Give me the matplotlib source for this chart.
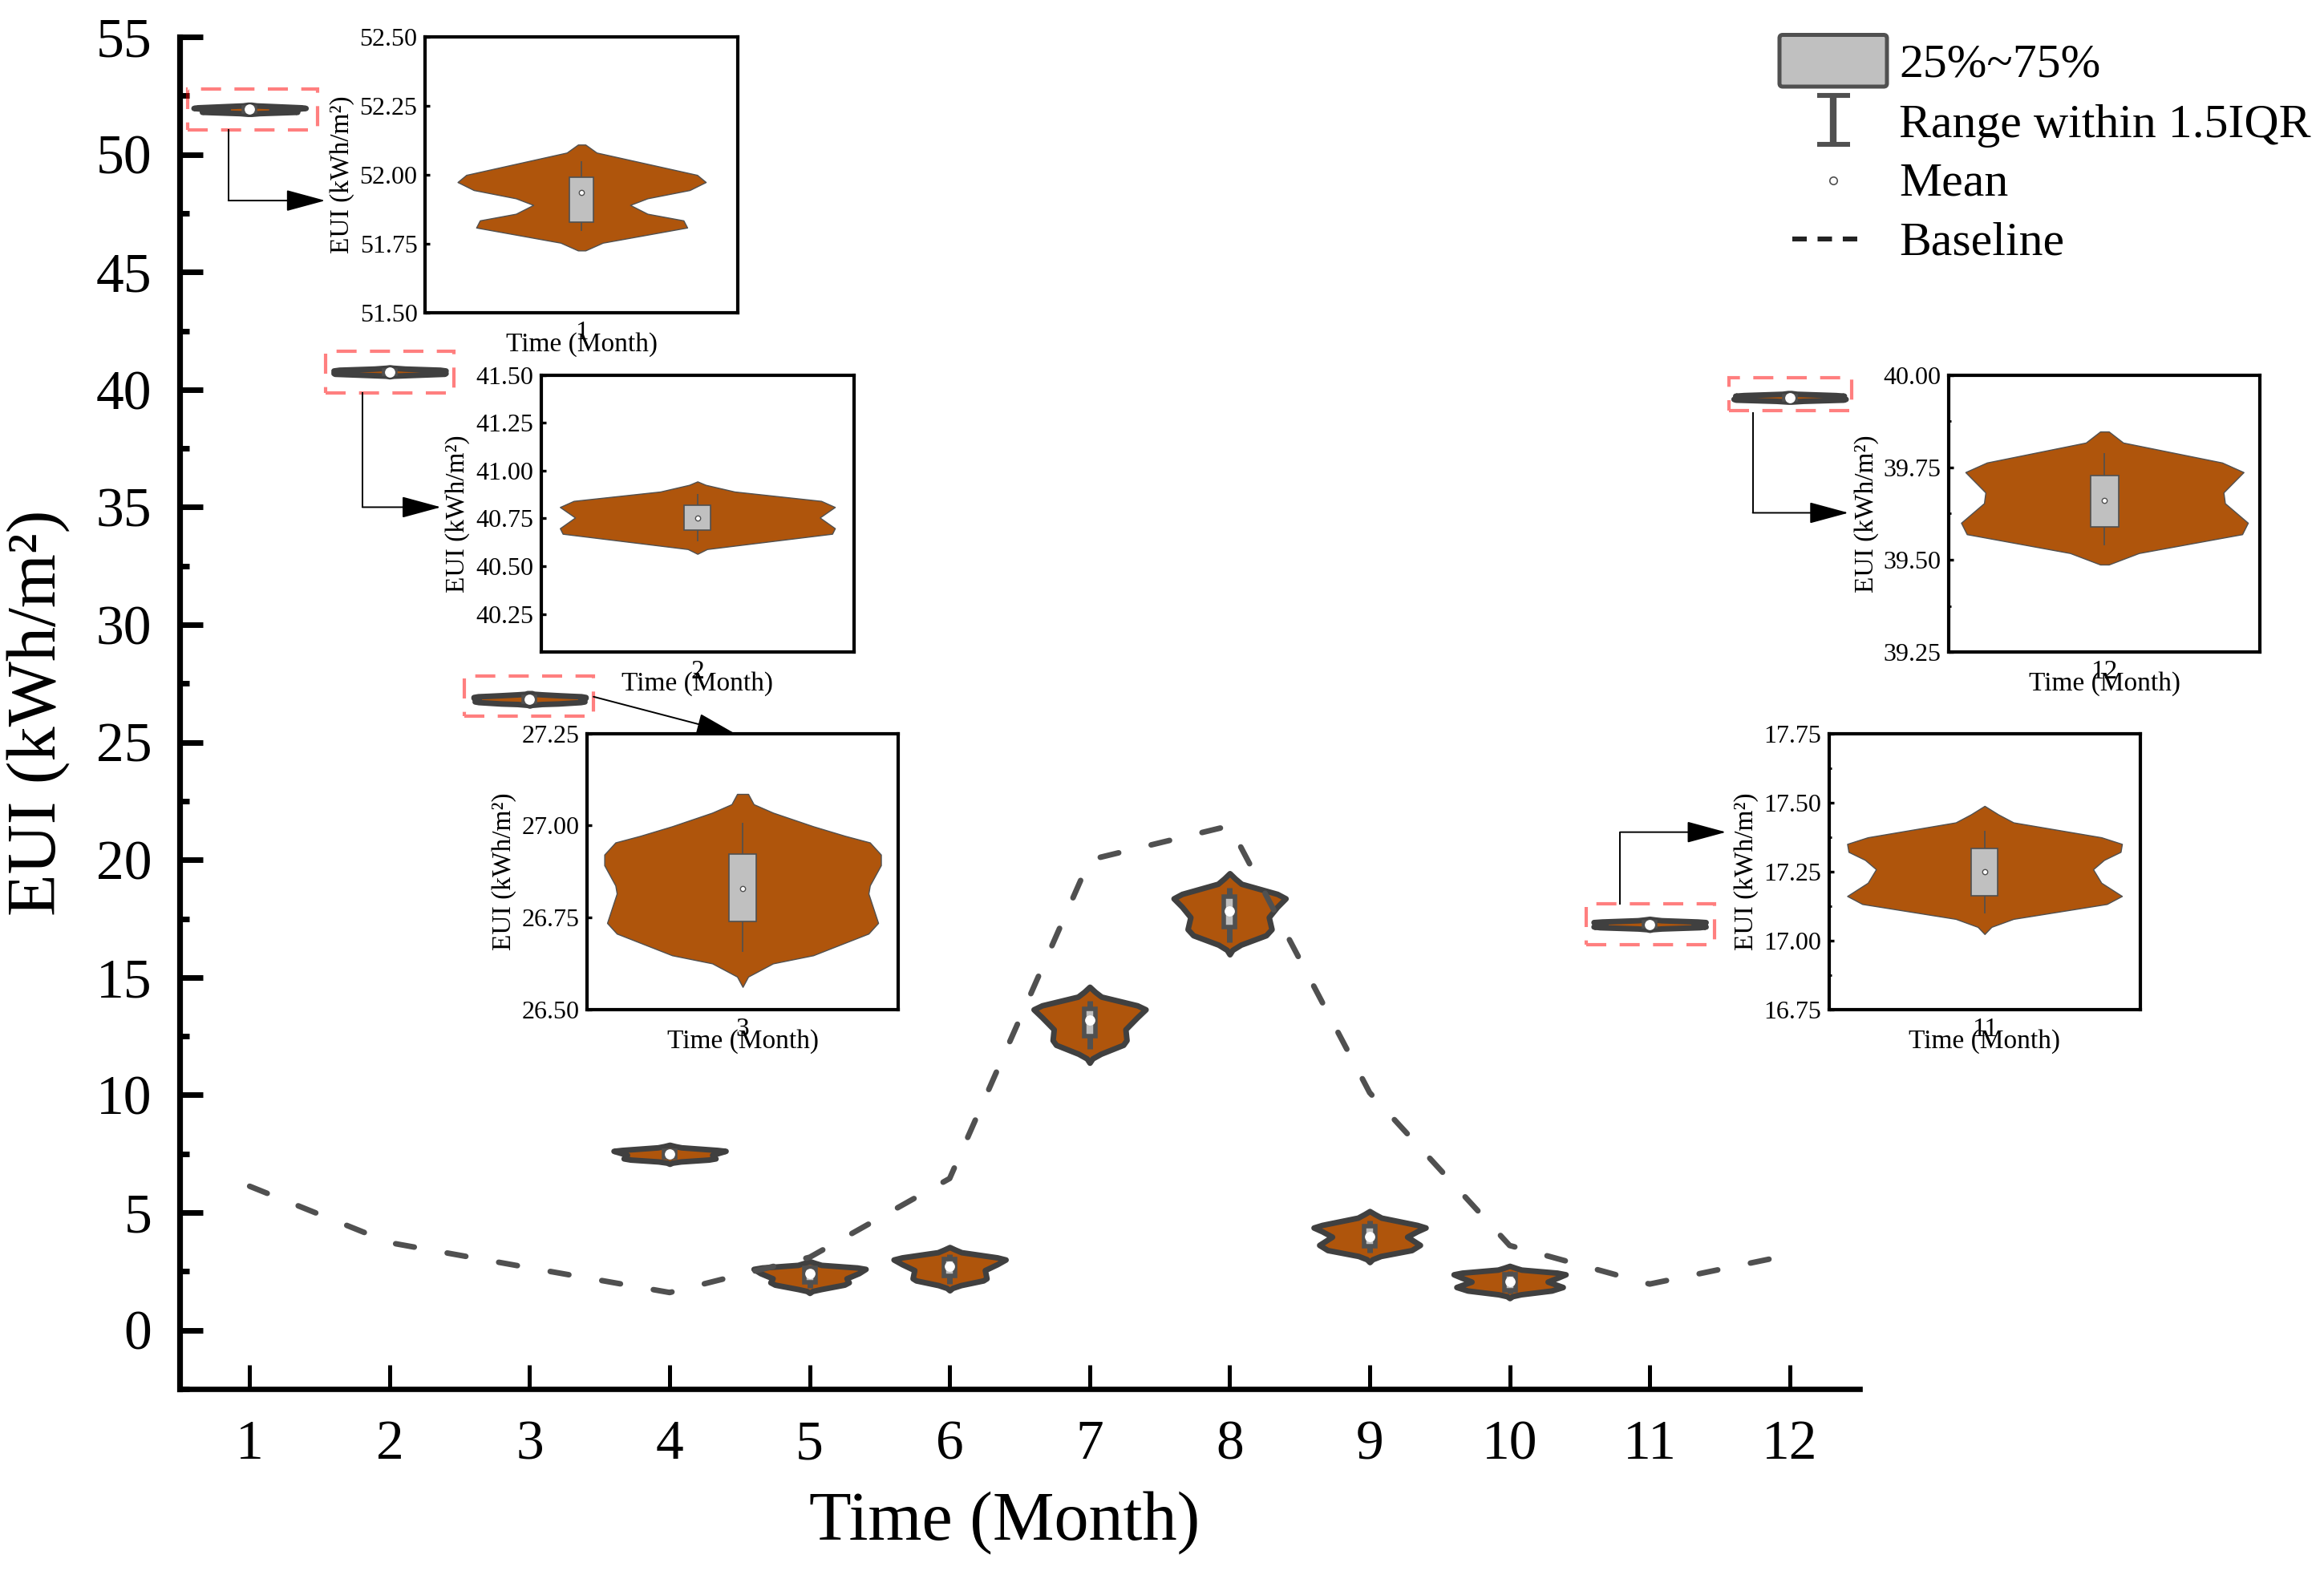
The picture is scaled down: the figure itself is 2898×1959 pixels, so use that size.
import numpy as np
import matplotlib
matplotlib.use('Agg')
import matplotlib.pyplot as plt
from matplotlib.patches import Rectangle, FancyBboxPatch
from matplotlib.ticker import MultipleLocator, FormatStrFormatter

plt.rcParams['font.family'] = ['Liberation Serif', 'DejaVu Serif']

# data
months = list(range(1, 13))
baseline = [6.12, 3.72, 2.65, 1.60, 3.10, 6.45, 20.0, 21.45, 10.1, 3.60, 1.96, 3.20]

# violin outline per month: EUI values and relative half width (1 = widest)
violin_y = [
    [51.726, 51.754, 51.809, 51.835, 51.859, 51.891, 51.915, 51.945, 51.974, 52.000, 52.081, 52.110],
    [40.564, 40.589, 40.669, 40.698, 40.754, 40.809, 40.841, 40.890, 40.925, 40.943],
    [26.561, 26.589, 26.625, 26.647, 26.706, 26.735, 26.815, 26.837, 26.892, 26.921, 26.954, 26.972,
     26.998, 27.035, 27.058, 27.086],
    [7.07, 7.12, 7.17, 7.25, 7.30, 7.45, 7.55, 7.62, 7.66, 7.77, 7.82, 7.88],
    [1.58, 1.66, 1.74, 1.93, 2.03, 2.20, 2.42, 2.60, 2.66, 2.77, 2.85, 2.93],
    [1.69, 1.79, 1.91, 2.11, 2.20, 2.55, 2.80, 3.00, 3.09, 3.31, 3.42, 3.53],
    [11.37, 11.55, 11.75, 12.13, 12.33, 12.79, 13.30, 13.64, 13.81, 14.18, 14.38, 14.60],
    [15.98, 16.17, 16.39, 16.79, 17.05, 17.56, 18.00, 18.36, 18.55, 18.98, 19.20, 19.43],
    [2.89, 3.01, 3.15, 3.40, 3.62, 3.97, 4.20, 4.36, 4.47, 4.78, 4.92, 5.06],
    [1.36, 1.44, 1.52, 1.68, 1.83, 2.06, 2.25, 2.37, 2.44, 2.57, 2.65, 2.73],
    [17.023, 17.049, 17.078, 17.132, 17.161, 17.209, 17.258, 17.292, 17.321, 17.350, 17.374, 17.428,
     17.457, 17.488],
    [39.487, 39.518, 39.569, 39.600, 39.653, 39.682, 39.737, 39.763, 39.817, 39.847],
]
violin_w = [
    [0.03, 0.17, 0.85, 0.82, 0.53, 0.39, 0.53, 0.87, 1.00, 0.93, 0.12, 0.03],
    [0.00, 0.07, 0.98, 1.00, 0.89, 1.00, 0.90, 0.27, 0.06, 0.00],
    [0.00, 0.04, 0.22, 0.51, 0.91, 0.98, 0.91, 0.92, 1.00, 1.00, 0.92, 0.74, 0.51, 0.22, 0.08, 0.04],
    [0.00, 0.05, 0.20, 0.70, 0.82, 0.76, 0.90, 1.00, 0.85, 0.21, 0.10, 0.00],
    [0.00, 0.05, 0.20, 0.62, 0.70, 0.66, 0.88, 1.00, 0.85, 0.21, 0.10, 0.00],
    [0.00, 0.05, 0.20, 0.60, 0.66, 0.63, 0.85, 1.00, 0.85, 0.21, 0.10, 0.00],
    [0.00, 0.05, 0.20, 0.60, 0.66, 0.64, 0.85, 1.00, 0.85, 0.21, 0.10, 0.00],
    [0.00, 0.05, 0.20, 0.65, 0.75, 0.70, 0.85, 1.00, 0.85, 0.21, 0.10, 0.00],
    [0.00, 0.05, 0.20, 0.75, 0.90, 0.67, 0.85, 1.00, 0.85, 0.21, 0.10, 0.00],
    [0.00, 0.05, 0.20, 0.75, 0.95, 0.68, 0.88, 1.00, 0.85, 0.21, 0.10, 0.00],
    [0.00, 0.05, 0.21, 0.89, 1.00, 0.85, 0.79, 0.87, 0.99, 1.00, 0.85, 0.21, 0.10, 0.00],
    [0.03, 0.24, 0.96, 1.00, 0.84, 0.83, 0.97, 0.82, 0.13, 0.03],
]

q1 = [51.829, 40.690, 26.739, 7.36, 2.02, 2.30, 12.50, 17.15, 3.57, 1.70, 17.163, 39.589]
q3 = [51.993, 40.817, 26.923, 7.62, 2.65, 3.04, 13.65, 18.43, 4.43, 2.36, 17.335, 39.728]
whisker_lo = [51.798, 40.630, 26.657, 7.25, 1.80, 1.97, 11.95, 16.50, 3.28, 1.55, 17.098, 39.538]
whisker_hi = [52.050, 40.879, 27.007, 7.72, 2.78, 3.23, 14.00, 18.80, 4.67, 2.50, 17.399, 39.788]
mean = [51.937, 40.750, 26.829, 7.50, 2.40, 2.72, 13.18, 17.84, 3.99, 2.06, 17.248, 39.660]

zoom_months = [1, 2, 3, 11, 12]
zoom_ylim = [(51.5, 52.5), (40.05, 41.5), (26.5, 27.25), (16.75, 17.75), (39.25, 40.0)]

ORANGE = '#AF550C'
DARK = '#404040'
GRAY = '#505050'
BOXFILL = '#C0C0C0'


def draw_violin(a, x, i, edge, lw, half=0.4):
    y = np.array(violin_y[i])
    w = np.array(violin_w[i]) * half
    a.fill_betweenx(y, x - w, x + w, facecolor=ORANGE, edgecolor=edge,
                    linewidth=lw, joinstyle='round', zorder=2)


def draw_box(a, x, i, width, lw, wlw, ms, mec, mew):
    a.add_patch(Rectangle((x - width / 2, q1[i]), width, q3[i] - q1[i],
                          facecolor=BOXFILL, edgecolor=GRAY, linewidth=lw, zorder=3))
    a.vlines(x, whisker_lo[i], q1[i], colors=GRAY, linewidth=wlw, zorder=3)
    a.vlines(x, q3[i], whisker_hi[i], colors=GRAY, linewidth=wlw, zorder=3)
    a.plot(x, mean[i], 'o', ms=ms, mfc='white', mec=mec, mew=mew, zorder=4)


fig = plt.figure(figsize=(14.49, 9.795), dpi=200)
ax = fig.add_axes([0.0773, 0.1159, 0.7229, 0.8606])

for i, m in enumerate(months):
    draw_violin(ax, m, i, DARK, 2.5)
    draw_box(ax, m, i, 0.08, 2.0, 2.5, 4.6, 'white', 0)

ax.plot(months, baseline, color=GRAY, lw=2.5, ls=(0, (3.4, 6.0)),
        dash_capstyle='round', zorder=5)

ax.set_xlim(0.5, 12.5)
ax.set_ylim(-2.5, 55)
ax.set_xticks(months)
ax.yaxis.set_major_locator(MultipleLocator(5))
ax.yaxis.set_minor_locator(MultipleLocator(2.5))
ax.spines[['top', 'right']].set_visible(False)
ax.spines['left'].set_linewidth(2.6)
ax.spines['bottom'].set_linewidth(2.4)
ax.tick_params(axis='y', which='major', direction='in', length=10.4, width=2.5, labelsize=25, pad=12.5)
ax.tick_params(axis='y', which='minor', direction='in', length=4.4, width=2.5)
ax.tick_params(axis='x', direction='in', length=10.8, width=1.8, labelsize=25, pad=14)
ax.set_xlabel('Time (Month)', fontsize=31)
ax.xaxis.set_label_coords(0.491, -0.076)
ax.set_ylabel('EUI (kWh/m²)', fontsize=31)
ax.yaxis.set_label_coords(-0.0646, 0.5)

# red dashed frames round the violins that get a zoomed view
frames = [((0.56, 51.04), 0.924, 1.76), ((1.54, 39.87), 0.92, 1.77), ((2.535, 26.12), 0.921, 1.70),
          ((10.545, 16.38), 0.921, 1.75), ((11.566, 39.12), 0.879, 1.38)]
for xy, w, h in frames:
    ax.add_patch(Rectangle(xy, w, h, fill=False, edgecolor=(1, 0, 0, 0.5), lw=1.5,
                           ls=(0, (6, 4)), zorder=6))

arrows = [
    [(0.848, 51.04), (0.848, 48.04), (1.54, 48.04)],
    [(1.805, 39.87), (1.805, 35.0), (2.366, 35.0)],
    [(3.456, 26.94), (4.47, 25.36)],
    [(10.79, 18.13), (10.79, 21.18), (11.545, 21.18)],
    [(11.736, 39.0), (11.736, 34.76), (12.42, 34.76)],
]
for path in arrows:
    if len(path) > 2:
        ax.plot([p[0] for p in path[:-1]], [p[1] for p in path[:-1]], color='black', lw=0.7, zorder=7)
    ax.annotate('', xy=path[-1], xytext=path[-2],
                arrowprops=dict(arrowstyle='-|>,head_length=1.55,head_width=0.42', color='black',
                                lw=0.7, shrinkA=0, shrinkB=0, mutation_scale=10), zorder=7)

# zoomed insets
inset_rects = [[0.1830, 0.8009, 0.1346, 0.1755],
               [0.2328, 0.5849, 0.1346, 0.1764],
               [0.2526, 0.3575, 0.1339, 0.1755],
               [0.7870, 0.3575, 0.1339, 0.1755],
               [0.8386, 0.5849, 0.1339, 0.1764]]
inset_half = [0.504, 0.455, 0.45, 0.453, 0.434]

for k, m in enumerate(zoom_months):
    i = m - 1
    a = fig.add_axes(inset_rects[k])
    draw_violin(a, 0, i, GRAY, 0.5)
    draw_box(a, 0, i, 0.078, 0.6, 0.6, 2.3, GRAY, 0.5)
    a.set_xlim(-inset_half[k], inset_half[k])
    a.set_ylim(*zoom_ylim[k])
    a.set_xticks([0])
    a.set_xticklabels([str(m)])
    a.yaxis.set_major_locator(MultipleLocator(0.25))
    a.yaxis.set_major_formatter(FormatStrFormatter('%.2f'))
    if m in (11, 12):
        a.yaxis.set_minor_locator(MultipleLocator(0.125))
    a.tick_params(axis='y', which='major', direction='in', length=2.2, width=1.2, labelsize=11.5, pad=3.5)
    a.tick_params(axis='y', which='minor', direction='in', length=1.2, width=1.0)
    a.tick_params(axis='x', length=0, labelsize=12, pad=3.5)
    for sp in a.spines.values():
        sp.set_linewidth(1.5)
    a.set_xlabel('Time (Month)', fontsize=12)
    a.xaxis.set_label_coords(0.5, -0.07)
    a.set_ylabel('EUI (kWh/m²)', fontsize=12)
    a.yaxis.set_label_coords(-0.226, 0.5)

# legend, drawn by hand in pixel units
lg = fig.add_axes([0, 0, 1, 1], facecolor='none')
lg.set_xlim(0, 2898)
lg.set_ylim(1959, 0)
lg.axis('off')
lg.add_patch(FancyBboxPatch((2219, 43.5), 134, 64.5, boxstyle='round,pad=0,rounding_size=4',
                            fc=BOXFILL, ec=GRAY, lw=1.8))
lg.plot([2286, 2286], [119, 180], color=GRAY, lw=3.0, solid_capstyle='butt')
lg.plot([2265.5, 2306.5], [119, 119], color=GRAY, lw=2.2, solid_capstyle='butt')
lg.plot([2265.5, 2306.5], [180, 180], color=GRAY, lw=2.2, solid_capstyle='butt')
lg.plot([2286], [225], 'o', ms=3.4, mfc='white', mec=GRAY, mew=0.6)
lg.plot([2235, 2320], [298, 298], color='#222222', lw=2.2, ls=(0, (2.95, 2.2)))
for txt, yb in zip(['25%~75%', 'Range within 1.5IQR', 'Mean', 'Baseline'], [95, 171, 244, 317]):
    lg.text(2368, yb, txt, fontsize=21.5, va='baseline', ha='left')

fig.savefig('out.png', dpi=200)
